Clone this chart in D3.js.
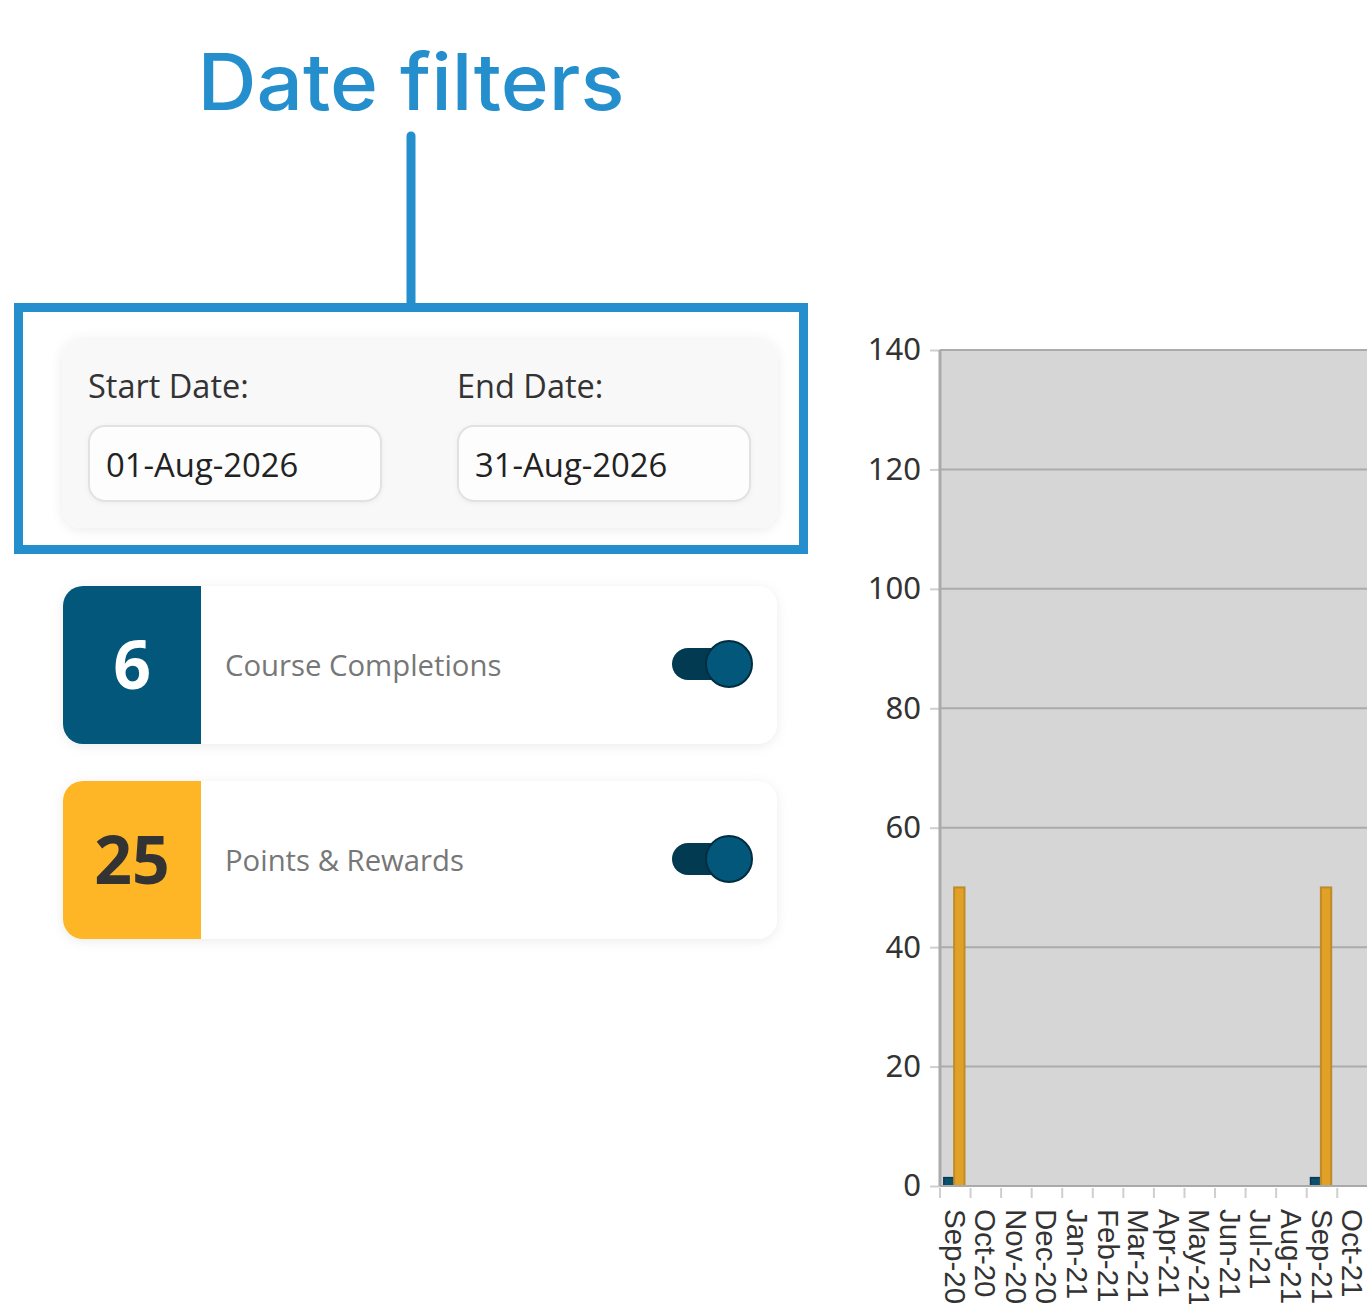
<!DOCTYPE html>
<html>
<head>
<meta charset="utf-8">
<script src="https://cdn.jsdelivr.net/npm/d3@7"></script>
<style>
  html, body { margin: 0; padding: 0; background: #fff; overflow: hidden; }
  svg { display: block; }
</style>
</head>
<body>
<svg id="page" width="1367" height="1304"></svg>
<script>
// ---------- data ----------
const months = ["Sep-20","Oct-20","Nov-20","Dec-20","Jan-21","Feb-21","Mar-21","Apr-21","May-21","Jun-21","Jul-21","Aug-21","Sep-21","Oct-21"];
const completions = [1.4,0,0,0,0,0,0,0,0,0,0,0,1.4,0];
const points      = [50,0,0,0,0,0,0,0,0,0,0,0,50,0];
const seriesNames = ["Course Completions","Points & Rewards"];
const yTicks = [0,20,40,60,80,100,120,140];
const cardValues = [6, 25];
const cardLabels = ["Course Completions","Points & Rewards"];
const dateLabels = ["Start Date:","End Date:"];
const dateValues = ["01-Aug-2026","31-Aug-2026"];
const titleText = "Date filters";

// ---------- setup ----------
const svg = d3.select("#page");
const defs = svg.append("defs");
const sh = defs.append("filter").attr("id","shadow").attr("x","-10%").attr("y","-20%").attr("width","120%").attr("height","140%");
sh.append("feDropShadow").attr("dx",0).attr("dy",2).attr("stdDeviation",6).attr("flood-color","#000").attr("flood-opacity",0.08);
const shIn = defs.append("filter").attr("id","shadowIn").attr("x","-10%").attr("y","-20%").attr("width","120%").attr("height","140%");
shIn.append("feDropShadow").attr("dx",0).attr("dy",1).attr("stdDeviation",2).attr("flood-color","#000").attr("flood-opacity",0.05);

const BLUE = "#02577a", GOLD = "#feb526", ACCENT = "#258fce";

// ---------- title + callout ----------
svg.append("text").attr("x",411).attr("y",110).attr("text-anchor","middle")
  .attr("font-family","Inter, 'Noto Sans', sans-serif").attr("font-weight",500)
  .attr("font-size",78).attr("fill",ACCENT)
  .attr("textLength",427).attr("lengthAdjust","spacingAndGlyphs")
  .text(titleText);
svg.append("line").attr("x1",411).attr("x2",411).attr("y1",136).attr("y2",307)
  .attr("stroke",ACCENT).attr("stroke-width",9).attr("stroke-linecap","round");

// ---------- date panel ----------
svg.append("rect").attr("x",62).attr("y",338).attr("width",716).attr("height",190).attr("rx",20)
  .attr("fill","#f8f8f8").attr("filter","url(#shadow)");
const dateX = [89, 458];
dateLabels.forEach((t,i) => {
  svg.append("text").attr("x",dateX[i]-1).attr("y",398)
    .attr("font-family","'Open Sans', 'Noto Sans', sans-serif").attr("font-size",32.5).attr("fill","#333")
    .text(t);
  svg.append("rect").attr("x",dateX[i]).attr("y",426).attr("width",292).attr("height",75).attr("rx",16)
    .attr("fill","#fdfdfd").attr("stroke","#e2e2e2").attr("stroke-width",2).attr("filter","url(#shadowIn)");
  svg.append("text").attr("x",dateX[i]+17).attr("y",477)
    .attr("font-family","'Open Sans', 'Noto Sans', sans-serif").attr("font-size",32.8).attr("fill","#222")
    .text(dateValues[i]);
});
svg.append("rect").attr("x",18.5).attr("y",307.5).attr("width",785).attr("height",242)
  .attr("fill","none").attr("stroke",ACCENT).attr("stroke-width",9);

// ---------- stat cards ----------
const cardY = [586, 781];
const cardColors = [BLUE, GOLD];
const numColors = ["#ffffff", "#333333"];
cardValues.forEach((v,i) => {
  const g = svg.append("g").attr("transform",`translate(63,${cardY[i]})`);
  g.append("rect").attr("width",714).attr("height",158).attr("rx",20).attr("fill","#fff").attr("filter","url(#shadow)");
  g.append("path").attr("d","M20,0 H138 V158 H20 A20,20 0 0 1 0,138 V20 A20,20 0 0 1 20,0 Z").attr("fill",cardColors[i]);
  g.append("text").attr("x",69).attr("y",103).attr("text-anchor","middle")
    .attr("font-family","'Open Sans', 'Noto Sans', sans-serif").attr("font-weight",700).attr("font-size",66)
    .attr("fill",numColors[i]).text(v);
  g.append("text").attr("x",162).attr("y",90)
    .attr("font-family","'Open Sans', 'Noto Sans', sans-serif").attr("font-size",29.3).attr("fill","#777")
    .text(cardLabels[i]);
  g.append("rect").attr("x",609).attr("y",62).attr("width",60).attr("height",32).attr("rx",16).attr("fill","#023a52");
  g.append("circle").attr("cx",666).attr("cy",78).attr("r",23).attr("fill",BLUE).attr("stroke","#012d40").attr("stroke-width",2);
});

// ---------- chart ----------
const plotL = 940, plotT = 350, plotB = 1186, plotR = 940 + months.length * 30.56;
const x0 = d3.scaleBand().domain(months).range([plotL, plotR]).padding(0);
const x1 = d3.scaleBand().domain(seriesNames).range([3.8, 24.5]).padding(0);
const y = d3.scaleLinear().domain([0,140]).range([plotB, plotT]);

const chart = svg.append("g");
chart.append("rect").attr("x",plotL).attr("y",plotT).attr("width",plotR-plotL).attr("height",plotB-plotT).attr("fill","#d6d6d6");

// y gridlines + labels
const yAxis = chart.append("g").attr("transform",`translate(${plotL},0)`)
  .call(d3.axisLeft(y).tickValues(yTicks).tickSize(10).tickPadding(9));
yAxis.select(".domain").remove();
yAxis.selectAll(".tick line").attr("stroke","#cfcfcf").attr("stroke-width",2);
yAxis.selectAll(".tick text").attr("font-family","'Noto Sans', 'Open Sans', sans-serif").attr("font-size",31).attr("fill","#333");
chart.append("g").selectAll("line").data(yTicks).join("line")
  .attr("x1",plotL).attr("x2",plotR).attr("y1",d=>y(d)).attr("y2",d=>y(d))
  .attr("stroke","#ababab").attr("stroke-width",2);

// bars
const grp = chart.append("g").selectAll("g").data(months).join("g")
  .attr("transform",d=>`translate(${x0(d)},0)`);
grp.append("rect").attr("x",x1(seriesNames[0])).attr("width",x1.bandwidth())
  .attr("y",(d,i)=>y(completions[i])).attr("height",(d,i)=>y(0)-y(completions[i]))
  .attr("fill","#0b4f6d").attr("stroke","#073a52").attr("stroke-width",1.5)
  .attr("visibility",(d,i)=>completions[i] > 0 ? "visible" : "hidden");
grp.append("rect").attr("x",x1(seriesNames[1])).attr("width",x1.bandwidth())
  .attr("y",(d,i)=>y(points[i])).attr("height",(d,i)=>y(0)-y(points[i]))
  .attr("fill","#e0a126").attr("stroke","#bf8a2b").attr("stroke-width",2)
  .attr("visibility",(d,i)=>points[i] > 0 ? "visible" : "hidden");

// axis lines
chart.append("line").attr("x1",plotL).attr("x2",plotL).attr("y1",plotT).attr("y2",plotB).attr("stroke","#aaa").attr("stroke-width",3);
chart.append("line").attr("x1",plotL).attr("x2",plotR).attr("y1",plotB).attr("y2",plotB).attr("stroke","#aaa").attr("stroke-width",2);

// x ticks at band edges
chart.append("g").selectAll("line").data(months).join("line")
  .attr("x1",d=>x0(d)).attr("x2",d=>x0(d)).attr("y1",plotB+2).attr("y2",plotB+12)
  .attr("stroke","#cfcfcf").attr("stroke-width",2);

// x labels rotated
chart.append("g").selectAll("text").data(months).join("text")
  .attr("transform",d=>`translate(${x0(d)+x0.bandwidth()/2},1209) rotate(90)`)
  .attr("dominant-baseline","central").attr("text-anchor","start")
  .attr("font-family","'Liberation Sans', Arial, sans-serif").attr("font-size",29.5).attr("fill","#333")
  .text(d=>d);
</script>
</body>
</html>
